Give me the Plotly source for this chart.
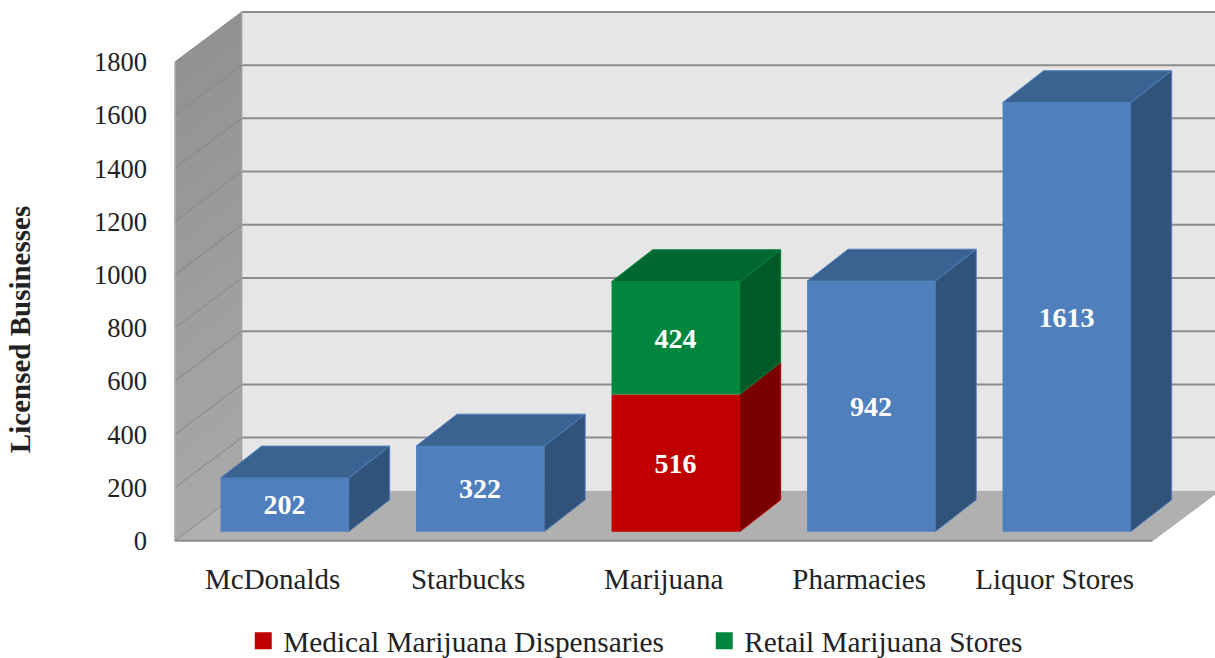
import plotly.graph_objects as go

# ---- data ----
CATEGORIES = ["McDonalds", "Starbucks", "Marijuana", "Pharmacies", "Liquor Stores"]
LICENSED = [202, 322, None, 942, 1613]
MEDICAL = [None, None, 516, None, None]
RETAIL = [None, None, 424, None, None]
Y_TICKS = [0, 200, 400, 600, 800, 1000, 1200, 1400, 1600, 1800]
Y_TITLE = "Licensed Businesses"
NAME_MEDICAL = "Medical Marijuana Dispensaries"
NAME_RETAIL = "Retail Marijuana Stores"

# ---- style / geometry (in axis units) ----
FONT = "Liberation Serif"
WALL_DX, WALL_DY = 0.3425, 188      # depth of the chart box
BAR_DX, BAR_DY = 0.21, 120          # depth of a bar
BAR_SHIFT_X, BAR_BASE = 0.061, 34   # bars stand slightly inside the box
BAR_W = 0.655
X_MIN, X_MAX = -0.5, len(CATEGORIES) - 0.5
Y_MAX = Y_TICKS[-1]

BLUE = ("#4f7fbd", "#3b6391", "#315379")
RED = ("#c00000", "#8e0000", "#7a0000")
GREEN = ("#00863d", "#006730", "#005a28")

shapes = []


def poly(points, fill, line=None, width=0):
    path = "M" + "L".join(f"{x},{y}" for x, y in points) + "Z"
    shapes.append(dict(type="path", path=path, xref="x", yref="y", layer="below",
                       fillcolor=fill, line=dict(color=line or fill, width=width)))


def seg(x0, y0, x1, y1, color, width):
    shapes.append(dict(type="line", x0=x0, y0=y0, x1=x1, y1=y1, xref="x", yref="y",
                       layer="below", line=dict(color=color, width=width)))


XW, XR = X_MIN + WALL_DX, X_MAX + WALL_DX
# back wall
poly([(XW, WALL_DY), (XR, WALL_DY), (XR, Y_MAX + WALL_DY), (XW, Y_MAX + WALL_DY)], "#e6e6e6")
# left wall: darkens towards the top
N = 18
for k in range(N, -1, -1):
    t = k / N
    r = int(0xaa + (0x92 - 0xaa) * t)
    col = f"rgb({r},{r},{r})"
    yk = Y_MAX * t
    poly([(X_MIN, 0), (XW, WALL_DY), (XW, yk + WALL_DY), (X_MIN, yk)], col)
# floor
poly([(X_MIN, 0), (XW, WALL_DY), (XR, WALL_DY), (X_MAX, 0)], "#b0b0b0")
# gridlines
for v in Y_TICKS[1:]:
    seg(XW, v + WALL_DY, XR, v + WALL_DY, "#8c8c8c", 2)
    seg(X_MIN, v, XW, v + WALL_DY, "#868686", 1)
seg(X_MIN, 0, XW, WALL_DY, "#8c8c8c", 1)
seg(XW, WALL_DY, XW, Y_MAX + WALL_DY, "#a0a0a0", 1)
seg(X_MIN, 0, X_MIN, Y_MAX, "#b4b4b4", 1.5)
seg(X_MIN, 0, X_MAX, 0, "#8c8c8c", 2)
seg(X_MAX, 0, XR, WALL_DY, "#a6a6a6", 1)


def box_faces(i, low, high, colors, with_top=True):
    x0 = i + BAR_SHIFT_X - BAR_W / 2
    x1 = i + BAR_SHIFT_X + BAR_W / 2
    y0, y1 = low + BAR_BASE, high + BAR_BASE
    poly([(x1, y0), (x1 + BAR_DX, y0 + BAR_DY), (x1 + BAR_DX, y1 + BAR_DY), (x1, y1)],
         colors[2], colors[0], 1)
    if with_top:
        poly([(x0, y1), (x1, y1), (x1 + BAR_DX, y1 + BAR_DY), (x0 + BAR_DX, y1 + BAR_DY)],
             colors[1], colors[0], 1)


for i, v in enumerate(LICENSED):
    if v is not None:
        box_faces(i, 0, v, BLUE)
for i, (m, r) in enumerate(zip(MEDICAL, RETAIL)):
    if m is not None:
        box_faces(i, 0, m, RED, with_top=False)
        box_faces(i, m, m + r, GREEN)

X_POS = [i + BAR_SHIFT_X for i in range(len(CATEGORIES))]
label_font = dict(family=FONT, size=28, color="white", weight="bold")


def bar(name, values, bases, color, legend):
    # a first, empty point carries the thick outline that enlarges the legend swatch
    widths = [5 if (legend and j == 0) else 0 for j in range(len(values))]
    return go.Bar(
        name=name, x=X_POS, y=values, base=bases, width=BAR_W,
        marker=dict(color=color, line=dict(color=color, width=widths)),
        text=[None if v is None else str(v) for v in values],
        textposition="inside", insidetextanchor="middle", textangle=0,
        insidetextfont=label_font, showlegend=legend,
    )


fig = go.Figure()
fig.add_trace(bar(Y_TITLE, LICENSED, [BAR_BASE] * len(CATEGORIES), BLUE[0], False))
fig.add_trace(bar(NAME_MEDICAL, MEDICAL, [BAR_BASE] * len(CATEGORIES), RED[0], True))
retail_base = [None if m is None else m + BAR_BASE for m in MEDICAL]
fig.add_trace(bar(NAME_RETAIL, RETAIL, retail_base, GREEN[0], True))

fig.update_layout(
    width=1215, height=658,
    margin=dict(l=170.6, r=0, t=9, b=113.8, autoexpand=False),
    paper_bgcolor="white", plot_bgcolor="white",
    barmode="overlay", shapes=shapes,
    font=dict(family=FONT, color="#222222"),
    xaxis=dict(range=[-0.52, 4.82], tickvals=list(range(len(CATEGORIES))), ticktext=CATEGORIES,
               showgrid=False, zeroline=False, showline=False, ticks="",
               ticklabelstandoff=15, tickfont=dict(size=29, family=FONT, color="#222222")),
    yaxis=dict(range=[-12, 1999], tickvals=Y_TICKS, showgrid=False, zeroline=False,
               showline=False, ticks="", ticklabelstandoff=23,
               tickfont=dict(size=26.5, family=FONT, color="#222222")),
    legend=dict(orientation="h", x=0.0692, y=-0.133, xanchor="left", yanchor="top",
                font=dict(size=29.3, family=FONT, color="#222222"), bgcolor="rgba(0,0,0,0)",
                entrywidth=416, entrywidthmode="pixels", traceorder="normal"),
    annotations=[dict(text=Y_TITLE, textangle=-90, xref="paper", yref="paper",
                      x=-0.1445, y=0.4, xanchor="center", yanchor="middle", showarrow=False,
                      font=dict(size=29, family=FONT, color="#222222", weight="bold"))],
)

fig.write_html("out.html", config=dict(displayModeBar=False),
               post_script="document.body.style.margin='0';document.body.style.overflow='hidden';")
